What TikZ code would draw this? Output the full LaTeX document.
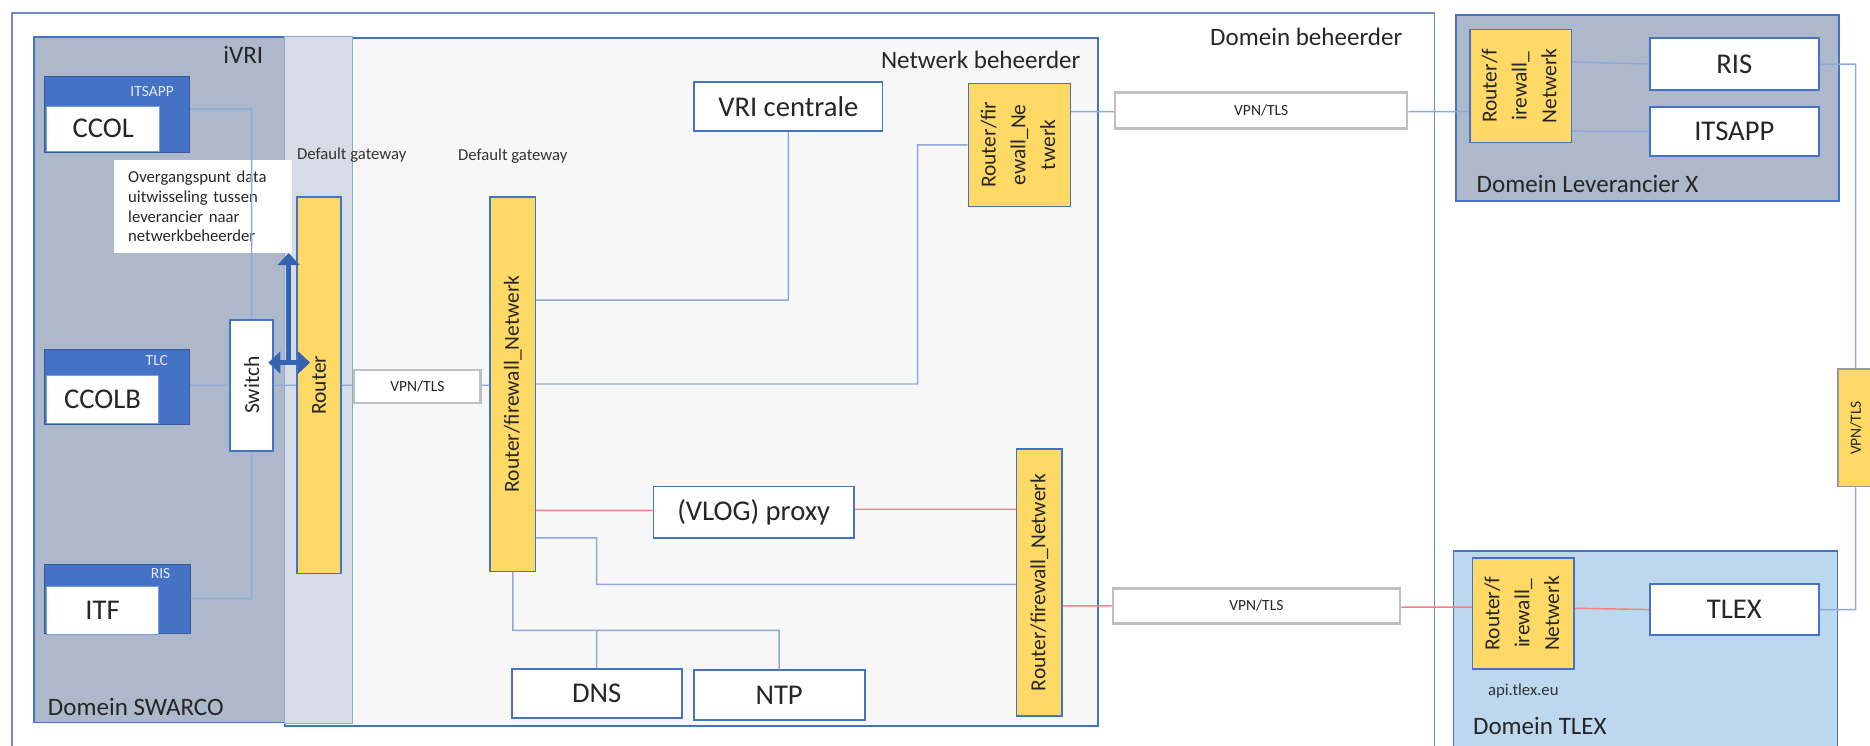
\documentclass[tikz,border=0pt]{standalone}
\usepackage{fontspec}
\setmainfont{Carlito}
\usepackage{xcolor}
\usepackage{tikz}
\usetikzlibrary{positioning,arrows.meta}
\definecolor{bordblue}{HTML}{4472C4}
\definecolor{outerblue}{HTML}{6F8CC4}
\definecolor{linkblue}{HTML}{8EA9DB}
\definecolor{swarcogray}{HTML}{ADB9CA}
\definecolor{gwgray}{HTML}{D6DCE5}
\definecolor{netgray}{HTML}{F7F7F7}
\definecolor{fwyellow}{HTML}{FFD966}
\definecolor{tlexblue}{HTML}{BDD7EE}
\definecolor{vpngray}{HTML}{BFBFBF}
\definecolor{redlink}{HTML}{FF7C80}
\definecolor{arrowblue}{HTML}{3563B0}

\begin{document}
\begin{tikzpicture}[x=1pt,y=-1pt,>={Triangle[width=18pt,length=10pt]},
		dombox/.style={draw=bordblue,line width=1.5pt,inner sep=0pt,anchor=north west},
		srvbox/.style={draw=bordblue,fill=white,line width=1.5pt,inner sep=0pt,text=black!85,font=\fontsize{24}{29}\selectfont},
		fwbox/.style={draw=bordblue,fill=fwyellow,line width=1.2pt,inner sep=0pt,text=black!85,font=\fontsize{18}{25}\selectfont},
		vpnbox/.style={draw=vpngray,fill=white,line width=2pt,inner sep=0pt,text=black!85,font=\fontsize{13}{15}\selectfont},
		appbox/.style={draw=bordblue!80!black,fill=bordblue,line width=1pt,inner sep=0pt},
		appname/.style={draw=bordblue!70,fill=white,line width=0.8pt,inner sep=0pt,text=black!85,font=\fontsize{24}{29}\selectfont},
		apptag/.style={inner sep=0pt,text=white!85!bordblue,font=\fontsize{13}{15}\selectfont},
		domlabel/.style={inner sep=0pt,text=black!85,font=\fontsize{21}{25}\selectfont},
		smalllabel/.style={inner sep=0pt,text=black!80,font=\fontsize{14}{17}\selectfont},
		notebox/.style={fill=white,inner xsep=11.5pt,text width=126pt,minimum height=78pt,align=left,text=black!85,font=\fontsize{14}{16.7}\selectfont},
		link/.style={draw=linkblue,line width=1.2pt},
		redline/.style={draw=redlink,line width=1.2pt},
		bigarrow/.style={draw=arrowblue,line width=3.6pt}]
		\useasboundingbox (0,0) rectangle (1568,625);
		\clip (0,0) rectangle (1568,625);

		% domains
		\node[dombox,draw=outerblue,minimum width=1193,minimum height=640] (beheer) at (9,10) {};
		\node[dombox,fill=netgray,minimum width=682,minimum height=577] (netwerk) at (238,31) {};
		\node[dombox,fill=swarcogray,minimum width=210,minimum height=575] (swarco) at (28,30) {};
		\node[dombox,draw=linkblue,line width=1pt,fill=gwgray,minimum width=57,minimum height=576] (gwcol) at (238,30) {};
		\node[dombox,fill=swarcogray,minimum width=321,minimum height=156] (leverancier) at (1220,12) {};
		\node[dombox,fill=tlexblue,minimum width=322,minimum height=190] (tlexdom) at (1218,461) {};

		\node[domlabel,anchor=east] (ivri) at (221,46) {iVRI};
		\node[domlabel,anchor=east] (netlabel) at (906,50) {Netwerk beheerder};
		\node[domlabel,anchor=east] (beheerlabel) at (1176,31) {Domein beheerder};
		\node[domlabel,anchor=west] (swarcolabel) at (40,593) {Domein SWARCO};
		\node[domlabel,anchor=west] (levlabel) at (1238,154) {Domein Leverancier X};
		\node[domlabel,anchor=west] (tlexlabel) at (1235,609) {Domein TLEX};

		% iVRI applications
		\node[appbox,minimum width=122,minimum height=64] (itsappbox) at (98,96) {};
		\node[appname,minimum width=95,minimum height=38] (ccol) at (86.5,108) {CCOL};
		\node[apptag,anchor=east] (tagitsapp) at (146,77) {ITSAPP};
		\node[appbox,minimum width=122,minimum height=63] (tlcbox) at (98,324.5) {};
		\node[appname,minimum width=94,minimum height=40.5] (ccolb) at (86,334.7) {CCOLB};
		\node[apptag,anchor=east] (tagtlc) at (141,302) {TLC};
		\node[appbox,minimum width=123,minimum height=58] (risbox) at (98.5,502) {};
		\node[appname,minimum width=94,minimum height=40] (itf) at (86,512) {ITF};
		\node[apptag,anchor=east] (tagris) at (143,481) {RIS};

		\node[srvbox,font=\fontsize{18}{22}\selectfont,minimum width=36,minimum height=110] (switch) at (211,323) {\rotatebox{90}{Switch}};
		\node[notebox] (note) at (170.5,173) {Overgangspunt data\\uitwisseling tussen\\leverancier naar\\netwerkbeheerder};

		% routers and firewalls
		\node[fwbox,minimum width=37,minimum height=316] (router) at (267.5,323) {\rotatebox{90}{Router}};
		\node[fwbox,minimum width=38,minimum height=314] (fwa) at (430,322) {\rotatebox{90}{Router/firewall\_Netwerk}};
		\node[fwbox,minimum width=38,minimum height=224] (fwb) at (871.5,488.5) {\rotatebox{90}{Router/firewall\_Netwerk}};
		\node[fwbox,minimum width=85.6,minimum height=103] (fwc) at (854.8,121.5) {\rotatebox{90}{\begin{tabular}{@{}c@{}}Router/fir\\ewall\_Ne\\twerk\end{tabular}}};
		\node[fwbox,minimum width=85,minimum height=95] (fwlev) at (1275,72.1) {\rotatebox{90}{\begin{tabular}{@{}c@{}}Router/f\\irewall\_\\Netwerk\end{tabular}}};
		\node[fwbox,minimum width=85.3,minimum height=93] (fwtlex) at (1277.3,514.5) {\rotatebox{90}{\begin{tabular}{@{}c@{}}Router/f\\irewall\_\\Netwerk\end{tabular}}};

		\node[smalllabel,anchor=west] (gwa) at (249,130) {Default gateway};
		\node[smalllabel] (gwb) [above=27pt of fwa] {Default gateway};
		\node[smalllabel] (api) [below=12pt of fwtlex] {api.tlex.eu};

		% servers
		\node[srvbox,minimum width=158,minimum height=41] (vri) at (661,89.5) {VRI centrale};
		\node[srvbox,minimum width=168,minimum height=43] (proxy) at (632,429.5) {(VLOG) proxy};
		\node[srvbox,minimum width=142.6,minimum height=41] (dns) at (500.3,581.5) {DNS};
		\node[srvbox,minimum width=143.4,minimum height=42] (ntp) at (653.3,583) {NTP};
		\node[srvbox,minimum width=141.6,minimum height=43.5] (ris) at (1454.2,53.7) {RIS};
		\node[srvbox,minimum width=141.6,minimum height=41.4] (itsapp) at (1454.2,110.1) {ITSAPP};
		\node[srvbox,minimum width=141.6,minimum height=42.8] (tlex) at (1454.2,511.1) {TLEX};

		% tunnels
		\node[vpnbox,minimum width=106,minimum height=28] (vpna) at (350,324) {VPN/TLS};
		\node[vpnbox,minimum width=245,minimum height=30] (vpnb) at (1057.5,92.7) {VPN/TLS};
		\node[vpnbox,minimum width=241,minimum height=29.3] (vpnc) at (1053.5,508) {VPN/TLS};
		\node[fwbox,draw=vpngray!80!black,minimum width=30,minimum height=98.5] (vpnd) at (1556,358.8) {\rotatebox{90}{\fontsize{13}{15}\selectfont VPN/TLS}};

		\draw[link] (itsappbox.east |- 0,91.5) -| (switch.north)
				(switch.south) |- (risbox.east |- 0,502)
				(tlcbox.east |- 0,323) -- (switch.west |- 0,323)
				(switch.east |- 0,323) -- (router.west |- 0,323)
				(router.east |- 0,323) -- (vpna.west |- 0,323)
				(vpna.east |- 0,323) -- (fwa.west |- 0,323)
				(fwa.east |- 0,322) -| ([xshift=-42pt]fwc.west) -- (fwc.west)
				(fwa.east |- 0,251.6) -| (vri.south)
				(fwa.east |- 0,451) -| (dns.north |- 0,490) -- (fwb.west |- 0,490)
				(fwa.south) -- ++(0,49) -| (ntp.north)
				(dns.north) -- (dns.north |- 0,528)
				(fwc.east |- 0,93.6) -- (vpnb.west |- 0,93.6)
				(vpnb.east |- 0,93.6) -- (fwlev.west |- 0,93.6)
				(fwlev.east |- 0,52) -- (ris.west)
				(fwlev.east |- 0,110) -- (itsapp.west)
				(ris.east) -| (vpnd.north)
				(vpnd.south) |- (tlex.east);
		\draw[redline] (fwa.east |- 0,428) -- (proxy.west |- 0,428)
				(proxy.east |- 0,427) -- (fwb.west |- 0,427)
				(fwb.east |- 0,508) -- (vpnc.west |- 0,508)
				(vpnc.east |- 0,509) -- (fwtlex.west |- 0,509)
				(fwtlex.east |- 0,510) -- (tlex.west);

		\coordinate (xchg) at (242,304);
		\draw[bigarrow,->] (xchg) -- (note.south -| xchg);
		\draw[bigarrow,<->] ([xshift=-17pt]xchg) -- ([xshift=18pt]xchg);
\end{tikzpicture}
\end{document}
